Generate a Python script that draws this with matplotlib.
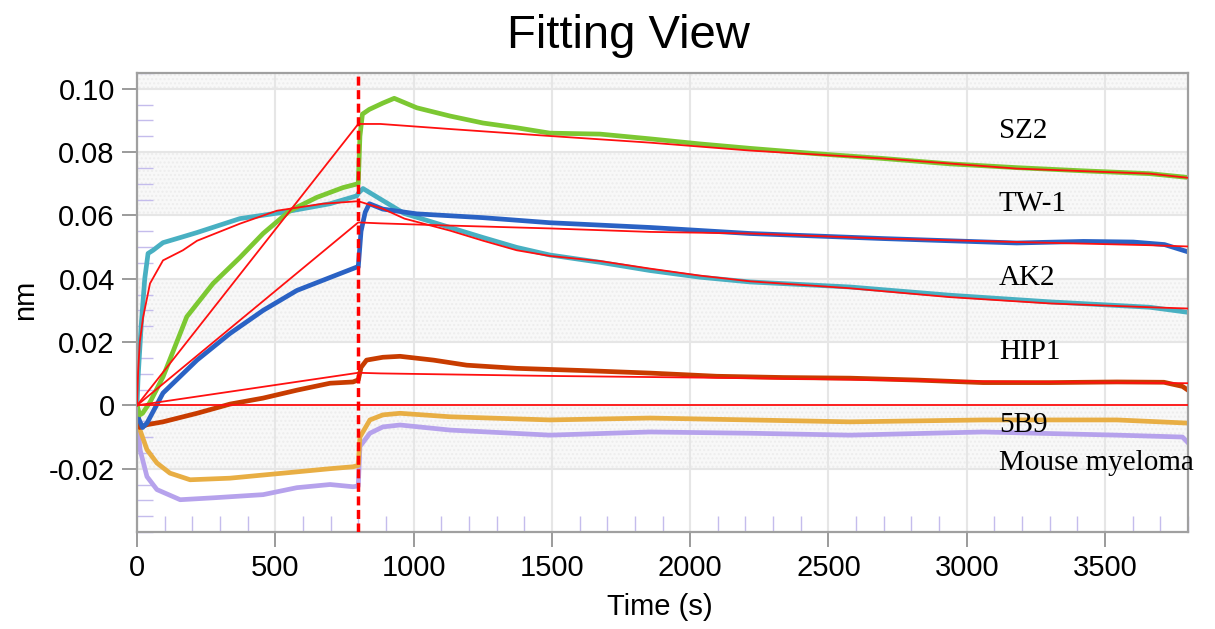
import matplotlib
matplotlib.use("Agg")
import matplotlib.pyplot as plt
from matplotlib.ticker import MultipleLocator, FixedLocator

# ---------------- data ----------------
# SZ2 (green)
sz2_t = [0, 10, 20, 47, 94, 180, 275, 372, 456, 553, 650, 745, 798,
         800, 806, 815, 840, 889, 930, 1012, 1132, 1251, 1373, 1493, 1674, 1855,
         2035, 2216, 2458, 2697, 2939, 3181, 3420, 3662, 3800]
sz2_v = [0.0, -0.003, -0.0025, 0.001, 0.009, 0.028, 0.0385, 0.0467, 0.0543, 0.0615, 0.0657, 0.0688, 0.070,
         0.070, 0.085, 0.092, 0.0935, 0.0955, 0.097, 0.094, 0.0914, 0.0892, 0.0877, 0.086, 0.0857, 0.0842,
         0.0826, 0.0812, 0.0795, 0.078, 0.0763, 0.0751, 0.0741, 0.0732, 0.072]
sz2_fit_t = [0, 800, 880, 1132, 1493, 1855, 2216, 2697, 3181, 3662, 3800]
sz2_fit_v = [0.0, 0.0889, 0.0889, 0.0873, 0.0851, 0.083, 0.0805, 0.078, 0.0748, 0.0732, 0.0719]

# TW-1 (blue)
tw1_t = [0, 5, 20, 36, 94, 217, 336, 456, 578, 698, 795,
         800, 810, 825, 840, 889, 1012, 1251, 1493, 1855, 2216, 2697, 3181, 3422, 3602, 3715, 3800]
tw1_v = [-0.001, -0.004, -0.007, -0.0056, 0.0039, 0.0143, 0.0227, 0.030, 0.0363, 0.0404, 0.0437,
         0.0437, 0.055, 0.061, 0.0637, 0.062, 0.0605, 0.0593, 0.0577, 0.0562, 0.0543, 0.0527, 0.0513, 0.0518,
         0.0516, 0.0508, 0.0485]
tw1_fit_t = [0, 800, 880, 1132, 1493, 1855, 2216, 2697, 3181, 3662, 3800]
tw1_fit_v = [0.0, 0.0578, 0.0575, 0.0568, 0.0559, 0.0548, 0.0543, 0.0527, 0.0516, 0.0506, 0.0502]

# AK2 (teal)
ak2_t = [0, 4, 15, 28, 40, 58, 94, 156, 217, 372, 528, 698, 795,
         800, 817, 889, 967, 1132, 1252, 1373, 1493, 1674, 1855, 2035, 2216, 2578, 2939, 3301, 3662, 3800]
ak2_v = [0.0, 0.009, 0.025, 0.040, 0.048, 0.049, 0.0514, 0.053, 0.0546, 0.059, 0.061, 0.0637, 0.0662,
         0.067, 0.0685, 0.0647, 0.0606, 0.0562, 0.053, 0.0499, 0.0475, 0.0452, 0.0426, 0.0405, 0.039,
         0.0374, 0.0348, 0.0327, 0.031, 0.0294]
ak2_fit_t = [0, 4, 10, 22, 47, 94, 166, 217, 372, 506, 672, 800,
             889, 967, 1132, 1252, 1373, 1493, 1674, 1855, 2035, 2216, 2578, 2939, 3301, 3662, 3800]
ak2_fit_v = [0.0, 0.0105, 0.020, 0.0278, 0.0385, 0.0458, 0.049, 0.052, 0.0574, 0.0615, 0.0637, 0.0645,
             0.0621, 0.059, 0.0552, 0.052, 0.049, 0.0472, 0.0456, 0.0432, 0.041, 0.0392, 0.037, 0.0342,
             0.0322, 0.031, 0.0306]

# HIP1 (dark orange)
hip1_t = [0, 10, 36, 94, 217, 336, 456, 578, 698, 781, 798,
          800, 810, 830, 889, 951, 1072, 1192, 1373, 1614, 1855, 2096, 2336, 2578, 2819, 3059, 3301,
          3543, 3713, 3780, 3800]
hip1_v = [-0.002, -0.007, -0.0061, -0.0052, -0.0025, 0.0004, 0.0023, 0.0048, 0.007, 0.0074, 0.008,
          0.008, 0.012, 0.0143, 0.0152, 0.0155, 0.0143, 0.0127, 0.0117, 0.011, 0.0102, 0.0092, 0.0088,
          0.0086, 0.008, 0.0072, 0.0072, 0.0074, 0.0073, 0.006, 0.0048]
hip1_fit_t = [0, 800, 880, 1493, 2216, 3000, 3800]
hip1_fit_v = [0.0, 0.0103, 0.0101, 0.0093, 0.0086, 0.0076, 0.0070]

# 5B9 / Mouse myeloma fit (zero)
zero_fit_t = [0, 3800]
zero_fit_v = [0.0, 0.0]

# 5B9 (orange)
b59_t = [0, 5, 11, 36, 72, 119, 192, 336, 456, 578, 698, 781, 798,
         800, 806, 842, 889, 951, 1132, 1493, 1855, 2216, 2578, 3059, 3543, 3800]
b59_v = [0.0, -0.004, -0.0078, -0.014, -0.0182, -0.0214, -0.0235, -0.023, -0.022, -0.021, -0.020, -0.0194, -0.019,
         -0.019, -0.010, -0.0046, -0.003, -0.0025, -0.0036, -0.0046, -0.004, -0.0046, -0.0052, -0.0046,
         -0.0046, -0.0056]

# Mouse myeloma (purple)
mm_t = [0, 5, 11, 36, 72, 156, 276, 456, 578, 698, 781, 798,
        800, 806, 842, 889, 951, 1132, 1493, 1855, 2216, 2578, 3059, 3543, 3780, 3800]
mm_v = [-0.004, -0.008, -0.014, -0.0225, -0.0266, -0.0298, -0.0292, -0.0282, -0.026, -0.025, -0.0257, -0.0255,
        -0.0255, -0.013, -0.0088, -0.0068, -0.0062, -0.0078, -0.0094, -0.0084, -0.0088, -0.0094, -0.0084,
        -0.0094, -0.010, -0.0118]

labels = ["SZ2", "TW-1", "AK2", "HIP1", "5B9", "Mouse myeloma"]
label_y = [0.0867, 0.0637, 0.0401, 0.0168, -0.0062, -0.0181]
label_x = 3116
step_time = 800

x_ticks = [0, 500, 1000, 1500, 2000, 2500, 3000, 3500]
y_ticks = [-0.02, 0.0, 0.02, 0.04, 0.06, 0.08, 0.10]
y_ticklabels = ["-0.02", "0", "0.02", "0.04", "0.06", "0.08", "0.10"]

# ---------------- figure ----------------
plt.rcParams['font.family'] = ['Liberation Sans', 'DejaVu Sans']
fig = plt.figure(figsize=(12.15, 6.29), dpi=100)
ax = fig.add_axes([137/1215, 1-532/629, (1188-137)/1215, (532-73)/629])
ax.set_xlim(0, 3800)
ax.set_ylim(-0.04, 0.105)

# alternating background bands
for lo, hi in [(0.10, 0.105), (0.06, 0.08), (0.02, 0.04), (-0.02, 0.0)]:
    ax.axhspan(lo, hi, facecolor='#f8f8f8', edgecolor='#ededed', hatch='....', linewidth=0, zorder=0)

ax.grid(True, which='major', color='#e6e6e6', linewidth=1.5, zorder=0.5)
ax.set_axisbelow(True)

trace_lw = 3.4
ax.plot(mm_t, mm_v, color='#b6a2ec', lw=trace_lw, zorder=2)
ax.plot(b59_t, b59_v, color='#e8ae44', lw=trace_lw, zorder=2.1)
ax.plot(hip1_t, hip1_v, color='#c83c00', lw=trace_lw, zorder=2.2)
ax.plot(ak2_t, ak2_v, color='#48b0c2', lw=trace_lw, zorder=2.3)
ax.plot(tw1_t, tw1_v, color='#2a62c4', lw=trace_lw, zorder=2.4)
ax.plot(sz2_t, sz2_v, color='#7cc832', lw=trace_lw, zorder=2.5)

fit_kw = dict(color='#ff1010', lw=1.3, zorder=3)
for ft, fv in [(sz2_fit_t, sz2_fit_v), (tw1_fit_t, tw1_fit_v), (ak2_fit_t, ak2_fit_v),
               (hip1_fit_t, hip1_fit_v), (zero_fit_t, zero_fit_v)]:
    ax.plot(ft, fv, **fit_kw)

ax.axvline(step_time, color='#ff0000', lw=2.5, linestyle=(0, (2.6, 1.3)), zorder=4)

for lab, yy in zip(labels, label_y):
    ax.text(label_x, yy, lab, family=['Liberation Serif', 'DejaVu Serif'], fontsize=21,
            ha='left', va='center', color='black', zorder=5, clip_on=False)

# ticks
ax.xaxis.set_major_locator(FixedLocator(x_ticks))
ax.yaxis.set_major_locator(FixedLocator(y_ticks))
ax.set_yticklabels(y_ticklabels)
ax.xaxis.set_minor_locator(MultipleLocator(100))
ax.yaxis.set_minor_locator(MultipleLocator(0.005))
ax.tick_params(which='major', direction='out', length=11, width=1.2, color='#8a8a8a',
               labelsize=21, pad=5, labelcolor='black')
ax.tick_params(which='minor', direction='in', length=11.5, width=1.0, color='#c4bcec')

for sp in ax.spines.values():
    sp.set_color('#a0a0a0')
    sp.set_linewidth(1.6)

fig.text(628/1215, 1-36/629, "Fitting View", fontsize=34, ha='center', va='center')
fig.text(660/1215, 1-607/629, "Time (s)", fontsize=21, ha='center', va='center')
fig.text(25/1215, 1-300/629, "nm", fontsize=21, ha='center', va='center', rotation=90)

fig.savefig("out.png", dpi=100)
